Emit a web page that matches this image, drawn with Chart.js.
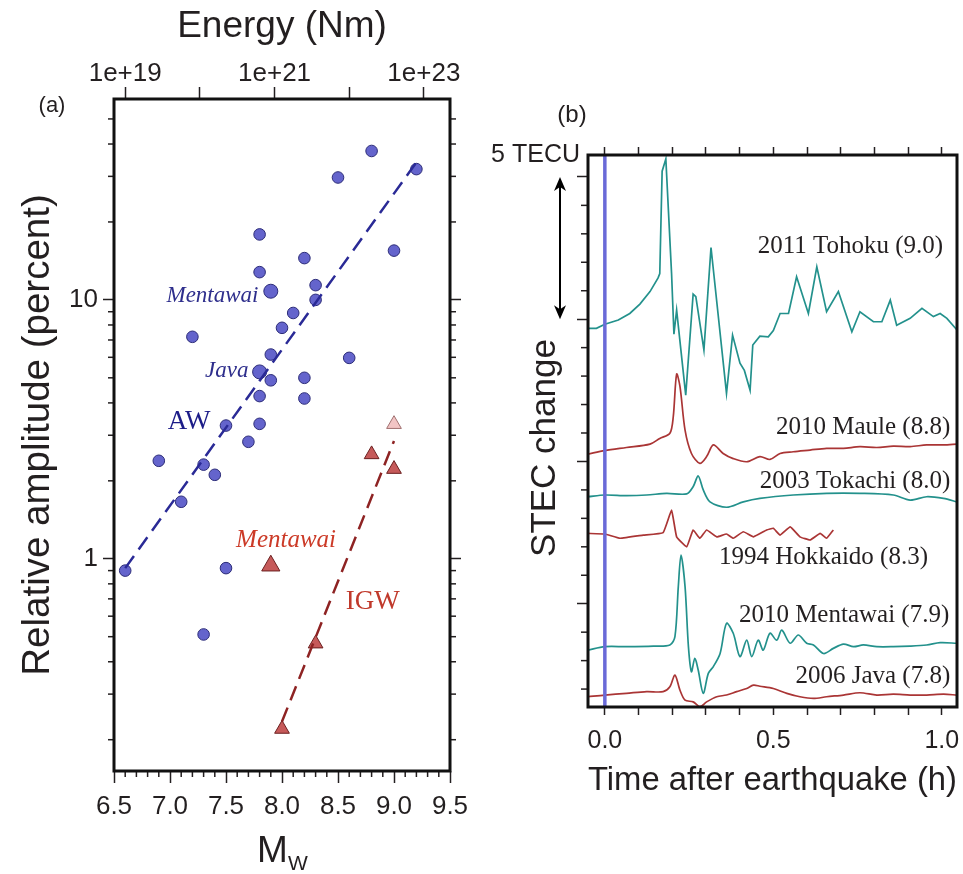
<!DOCTYPE html>
<html>
<head>
<meta charset="utf-8">
<title>AW / IGW amplitude and STEC changes</title>
<script src="https://cdn.jsdelivr.net/npm/chart.js@4.4.1/dist/chart.umd.min.js"></script>
<style>
    html, body { margin: 0; padding: 0; background: #fff; }
    #wrap { position: relative; width: 963px; height: 874px; }
    #chartA { position: absolute; left: 0; top: 0; }
    #chartB { position: absolute; left: 480px; top: 0; }
</style>
</head>
<body>
<div id="wrap">
    <canvas id="chartA" width="480" height="874"></canvas>
    <canvas id="chartB" width="483" height="874"></canvas>
</div>
<script>
// ---------- panel (a): relative amplitude vs Mw ----------
const mwTicks = [6.5, 7.0, 7.5, 8.0, 8.5, 9.0, 9.5];
const mwTickLabels = ["6.5", "7.0", "7.5", "8.0", "8.5", "9.0", "9.5"];
const mwMinorTicks = [6.6, 6.7, 6.8, 6.9, 7.1, 7.2, 7.3, 7.4, 7.6, 7.7, 7.8, 7.9,
                      8.1, 8.2, 8.3, 8.4, 8.6, 8.7, 8.8, 8.9, 9.1, 9.2, 9.3, 9.4];
const energyTicks = [1e19, 1e20, 1e21, 1e22, 1e23];
const energyTickLabels = ["1e+19", "", "1e+21", "", "1e+23"];
const ampTicks = [1, 10];
const ampTickLabels = ["1", "10"];
const ampMinorTicks = [0.2, 0.3, 0.4, 0.5, 0.6, 0.7, 0.8, 0.9, 2, 3, 4, 5, 6, 7, 8, 9, 20, 30, 40, 50];

// acoustic waves (AW), circles
const awMw  = [8.8, 9.2, 8.5, 7.8, 9.0, 8.2, 7.8, 8.3, 8.3, 8.1, 8.0, 7.2, 7.9, 8.6,
               7.9, 8.2, 7.8, 8.2, 7.5, 7.8, 7.7, 6.9, 7.3, 7.4, 7.1, 6.6, 7.5, 7.3];
const awAmp = [37.6, 32, 29.7, 17.9, 15.5, 14.5, 12.8, 11.4, 10.0, 8.9, 7.8, 7.2, 6.15, 5.97,
               4.89, 5.0, 4.25, 4.16, 3.27, 3.32, 2.83, 2.39, 2.31, 2.11, 1.66, 0.90, 0.92, 0.51];
// named events (bigger symbols): Mentawai, Java
const awNamedMw  = [7.9, 7.8];
const awNamedAmp = [10.8, 5.27];

// internal gravity waves (IGW), triangles
const igwMw  = [8.8, 9.0, 8.3, 8.0];
const igwAmp = [2.53, 2.22, 0.47, 0.22];
const igwMentawaiMw  = [7.9];
const igwMentawaiAmp = [0.94];
const igwPaleMw  = [9.0];
const igwPaleAmp = [3.31];

// regression lines
const awFitMw   = [6.6, 9.2];
const awFitAmp  = [0.92, 34];
const igwFitMw  = [8.0, 9.0];
const igwFitAmp = [0.235, 2.85];

// ---------- panel (b): STEC change time series ----------
const timeTicks = [0, 0.1, 0.2, 0.3, 0.4, 0.5, 0.6, 0.7, 0.8, 0.9, 1.0];
const timeTickLabels = ["0.0", "", "", "", "", "0.5", "", "", "", "", "1.0"];
const tecTicks = [5, 10, 15, 20];
const tecMinorTicks = [2, 3, 4, 6, 7, 8, 9, 11, 12, 13, 14, 16, 17, 18, 19];

const tohokuTime = [-0.05, -0.025, 0, 0.04, 0.074, 0.104, 0.134, 0.158, 0.163, 0.170, 0.181, 0.198,
    0.205, 0.213, 0.240, 0.262, 0.270, 0.294, 0.315, 0.361, 0.379, 0.401, 0.414, 0.431, 0.439,
    0.460, 0.485, 0.50, 0.52, 0.545, 0.569, 0.604, 0.629, 0.658, 0.693, 0.733, 0.757, 0.797,
    0.822, 0.847, 0.866, 0.906, 0.941, 0.975, 0.995, 1.015, 1.045];
const tohokuTec = [14.68, 14.68, 14.82, 14.97, 15.2, 15.53, 15.97, 16.45, 16.6, 20.2, 20.63, 16.6,
    14.47, 15.32, 12.33, 15.88, 15.79, 13.92, 17.52, 12.39, 14.44, 13.45, 13.2, 12.5, 14.09,
    14.4, 14.38, 14.6, 15.2, 15.2, 16.49, 15.2, 16.84, 15.26, 15.97, 14.56, 15.26, 14.91,
    14.91, 15.67, 14.79, 15.03, 15.38, 15.09, 15.2, 15.03, 14.62];

const mauleTime = [-0.05, 0, 0.064, 0.134, 0.163, 0.193, 0.203, 0.213, 0.223, 0.238, 0.257, 0.282,
    0.302, 0.322, 0.351, 0.381, 0.421, 0.46, 0.49, 0.52, 0.559, 0.609, 0.658, 0.708, 0.757,
    0.807, 0.856, 0.906, 0.955, 1.005, 1.045];
const mauleTec = [10.26, 10.38, 10.49, 10.61, 10.81, 10.99, 11.57, 13.07, 12.63, 11.1, 10.28, 9.93,
    10.17, 10.58, 10.28, 10.1, 9.99, 10.17, 10.07, 10.28, 10.34, 10.4, 10.46, 10.46, 10.52,
    10.49, 10.54, 10.52, 10.58, 10.58, 10.61];

const tokachiTime = [-0.05, 0, 0.064, 0.124, 0.183, 0.243, 0.262, 0.277, 0.292, 0.312, 0.361, 0.411,
    0.46, 0.559, 0.658, 0.757, 0.856, 0.906, 0.955, 1.005, 1.045];
const tokachiTec = [8.76, 8.82, 8.8, 8.82, 8.88, 8.86, 9.11, 9.49, 9.0, 8.58, 8.39, 8.58,
    8.7, 8.82, 8.88, 8.88, 8.82, 8.64, 8.76, 8.7, 8.58];

const hokkaidoTime = [-0.05, 0, 0.045, 0.114, 0.173, 0.198, 0.213, 0.243, 0.262, 0.282, 0.302, 0.332,
    0.361, 0.381, 0.411, 0.441, 0.48, 0.5, 0.52, 0.55, 0.579, 0.609, 0.639, 0.658, 0.678];
const hokkaidoTec = [7.47, 7.45, 7.3, 7.41, 7.5, 8.29, 7.35, 7.0, 7.59, 7.3, 7.59, 7.35,
    7.45, 7.3, 7.53, 7.35, 7.59, 7.65, 7.41, 7.7, 7.35, 7.24, 7.47, 7.3, 7.59];

const mentawaiTime = [-0.05, 0, 0.064, 0.144, 0.193, 0.208, 0.218, 0.226, 0.238, 0.248, 0.257, 0.267,
    0.277, 0.292, 0.307, 0.322, 0.342, 0.361, 0.381, 0.401, 0.421, 0.436, 0.455, 0.47, 0.49,
    0.51, 0.525, 0.55, 0.574, 0.599, 0.619, 0.649, 0.678, 0.708, 0.738, 0.767, 0.807, 0.856,
    0.906, 0.955, 0.995, 1.045];
const mentawaiTec = [3.37, 3.49, 3.49, 3.51, 3.55, 3.84, 5.6, 6.71, 5.6, 3.49, 2.61, 3.08,
    2.67, 1.85, 2.55, 2.79, 3.25, 4.31, 3.96, 3.14, 3.72, 3.14, 3.72, 3.37, 3.96,
    3.72, 4.07, 3.61, 3.9, 3.61, 3.55, 3.25, 3.43, 3.58, 3.49, 3.55, 3.49, 3.49,
    3.51, 3.55, 3.63, 3.61];

const javaTime = [-0.05, 0, 0.064, 0.124, 0.173, 0.193, 0.208, 0.223, 0.238, 0.262, 0.282, 0.302,
    0.332, 0.361, 0.391, 0.421, 0.441, 0.46, 0.5, 0.54, 0.579, 0.619, 0.658, 0.708, 0.757,
    0.807, 0.856, 0.906, 0.955, 1.005, 1.045];
const javaTec = [1.73, 1.79, 1.85, 1.91, 1.91, 2.08, 2.49, 1.96, 1.61, 1.55, 1.38, 1.55,
    1.73, 1.79, 1.91, 2.02, 2.14, 2.1, 2.02, 1.85, 1.73, 1.67, 1.73, 1.79, 1.87,
    1.79, 1.82, 1.79, 1.79, 1.82, 1.79];

const quakeTime = 0;

// ---------- helpers ----------
const SANS = "'Liberation Sans', Arial, sans-serif";
const SERIF = "'Liberation Serif', 'Times New Roman', serif";
const INK = "#231f20";
const TEAL = "#23918c";
const RED = "#aa3535";

const mwToEnergy = mw => Math.pow(10, 1.5 * mw + 9.1);
const zip = (xs, ys) => xs.map((x, i) => ({ x: x, y: ys[i] }));
const fixedTicks = values => scale => { scale.ticks = values.map(v => ({ value: v })); };

// give every axis a fixed box so the plot area lands where the figure has it
const boxSize = (w, h) => scale => {
    if (w !== null) scale.width = w;
    if (h !== null) scale.height = h;
    scale.paddingLeft = scale.paddingRight = scale.paddingTop = scale.paddingBottom = 0;
};

const tickGrid = len => ({
    drawOnChartArea: false, tickLength: len, tickWidth: 1.5, tickColor: INK
});

// frame round the plot area
const framePlugin = {
    id: "frame",
    afterDraw(chart) {
        const a = chart.chartArea;
        const ctx = chart.ctx;
        ctx.save();
        ctx.strokeStyle = "#111";
        ctx.lineWidth = 3;
        ctx.strokeRect(a.left, a.top, a.right - a.left, a.bottom - a.top);
        ctx.restore();
    }
};

// short ticks between the labelled ones
function minorTicks(list) {
    return {
        id: "minorTicks",
        afterDraw(chart) {
            const a = chart.chartArea;
            const ctx = chart.ctx;
            ctx.save();
            ctx.strokeStyle = INK;
            ctx.lineWidth = 1.5;
            list.forEach(m => {
                const s = chart.scales[m.scale];
                m.values.forEach(v => {
                    const p = s.getPixelForValue(v);
                    ctx.beginPath();
                    if (m.side === "left") { ctx.moveTo(a.left, p); ctx.lineTo(a.left - m.length, p); }
                    if (m.side === "right") { ctx.moveTo(a.right, p); ctx.lineTo(a.right + m.length, p); }
                    if (m.side === "bottom") { ctx.moveTo(p, a.bottom); ctx.lineTo(p, a.bottom + m.length); }
                    ctx.stroke();
                });
            });
            ctx.restore();
        }
    };
}

// free text: at data coordinates (at) or at canvas pixels (px)
function notes(items) {
    return {
        id: "notes",
        afterDraw(chart) {
            const ctx = chart.ctx;
            items.forEach(n => {
                let x, y;
                if (n.at) {
                    x = chart.scales.x.getPixelForValue(n.at[0]);
                    y = chart.scales.y.getPixelForValue(n.at[1]);
                } else {
                    x = n.px[0];
                    y = n.px[1];
                }
                ctx.save();
                ctx.translate(x, y);
                if (n.rotate) ctx.rotate(n.rotate);
                ctx.font = n.font;
                ctx.fillStyle = n.color || INK;
                ctx.textAlign = n.align || "left";
                ctx.textBaseline = n.baseline || "alphabetic";
                ctx.fillText(n.text, 0, 0);
                ctx.restore();
            });
        }
    };
}

// double-headed scale arrow (5 TECU)
function scaleArrow(from, to, dx) {
    return {
        id: "scaleArrow",
        afterDraw(chart) {
            const ctx = chart.ctx;
            const y = chart.scales.y;
            const x = chart.chartArea.left + dx;
            const y1 = y.getPixelForValue(from);
            const y2 = y.getPixelForValue(to);
            ctx.save();
            ctx.strokeStyle = "#000";
            ctx.fillStyle = "#000";
            ctx.lineWidth = 2;
            ctx.beginPath();
            ctx.moveTo(x, y1 + 8);
            ctx.lineTo(x, y2 - 8);
            ctx.stroke();
            [[y1, 1], [y2, -1]].forEach(([tip, dir]) => {
                ctx.beginPath();
                ctx.moveTo(x, tip);
                ctx.lineTo(x - 6, tip + dir * 14);
                ctx.lineTo(x, tip + dir * 10);
                ctx.lineTo(x + 6, tip + dir * 14);
                ctx.closePath();
                ctx.fill();
            });
            ctx.restore();
        }
    };
}

// ---------- chart (a) ----------
const ampMin = 0.1514, ampMax = 59.7;

new Chart(document.getElementById("chartA"), {
    type: "scatter",
    data: {
        datasets: [
            {
                label: "AW fit",
                data: zip(awFitMw, awFitAmp),
                showLine: true, pointRadius: 0,
                borderColor: "#2a2a96", borderWidth: 2.5, borderDash: [15, 8]
            },
            {
                label: "IGW fit",
                data: zip(igwFitMw, igwFitAmp),
                showLine: true, pointRadius: 0,
                borderColor: "#8e2323", borderWidth: 2.5, borderDash: [15, 8]
            },
            {
                label: "AW named",
                data: zip(awNamedMw, awNamedAmp),
                pointStyle: "circle", pointRadius: 7,
                backgroundColor: "#6464cc", borderColor: "#2c2c78", borderWidth: 1
            },
            {
                label: "AW",
                data: zip(awMw, awAmp),
                pointStyle: "circle", pointRadius: 5.8,
                backgroundColor: "#6464cc", borderColor: "#2c2c78", borderWidth: 1
            },
            {
                label: "IGW Mentawai",
                data: zip(igwMentawaiMw, igwMentawaiAmp),
                pointStyle: "triangle", pointRadius: 10.5,
                backgroundColor: "#c65a5a", borderColor: "#6b1f1f", borderWidth: 1
            },
            {
                label: "IGW",
                data: zip(igwMw, igwAmp),
                pointStyle: "triangle", pointRadius: 8.5,
                backgroundColor: "#c65a5a", borderColor: "#6b1f1f", borderWidth: 1
            },
            {
                label: "IGW pale",
                data: zip(igwPaleMw, igwPaleAmp),
                pointStyle: "triangle", pointRadius: 8.5,
                backgroundColor: "#f2c4c4", borderColor: "#a07070", borderWidth: 1
            }
        ]
    },
    options: {
        responsive: false,
        animation: false,
        layout: { padding: 0 },
        plugins: { legend: { display: false }, tooltip: { enabled: false } },
        scales: {
            x: {
                type: "linear", position: "bottom", min: 6.5, max: 9.5,
                afterBuildTicks: fixedTicks(mwTicks),
                afterFit: boxSize(null, 103),
                ticks: {
                    autoSkip: false, maxRotation: 0, padding: 8, color: INK,
                    font: { family: SANS, size: 26 },
                    callback: (v, i) => mwTickLabels[i]
                },
                grid: tickGrid(12),
                border: { display: false }
            },
            xTop: {
                type: "logarithmic", position: "top",
                min: mwToEnergy(6.5), max: mwToEnergy(9.5),
                afterBuildTicks: fixedTicks(energyTicks),
                afterFit: boxSize(null, 99),
                ticks: {
                    autoSkip: false, maxRotation: 0, padding: 0, color: INK,
                    font: { family: SANS, size: 26, lineHeight: 1 },
                    callback: (v, i) => energyTickLabels[i]
                },
                grid: tickGrid(12),
                border: { display: false },
                title: {
                    display: true, text: "Energy (Nm)", color: INK,
                    font: { family: SANS, size: 37 }, padding: { top: 5, bottom: 0 }
                }
            },
            y: {
                type: "logarithmic", position: "left", min: ampMin, max: ampMax,
                afterBuildTicks: fixedTicks(ampTicks),
                afterFit: boxSize(114, null),
                ticks: {
                    autoSkip: false, padding: 5, color: INK,
                    font: { family: SANS, size: 26 },
                    callback: (v, i) => ampTickLabels[i]
                },
                grid: tickGrid(11),
                border: { display: false },
                title: {
                    display: true, text: "Relative amplitude (percent)", color: INK,
                    font: { family: SANS, size: 38.5 }, padding: { top: 15, bottom: 0 }
                }
            },
            yR: {
                type: "logarithmic", position: "right", min: ampMin, max: ampMax,
                afterBuildTicks: fixedTicks(ampTicks),
                afterFit: boxSize(30, null),
                ticks: { callback: () => "" },
                grid: tickGrid(11),
                border: { display: false }
            }
        }
    },
    plugins: [
        minorTicks([
            { scale: "y", side: "left", length: 6, values: ampMinorTicks },
            { scale: "y", side: "right", length: 6, values: ampMinorTicks },
            { scale: "x", side: "bottom", length: 6, values: mwMinorTicks }
        ]),
        framePlugin,
        notes([
            { text: "(a)", px: [52, 106], font: "22px " + SANS, align: "center", baseline: "middle" },
            { text: "M", px: [257, 862], font: "37px " + SANS },
            { text: "W", px: [288, 870], font: "21px " + SANS },
            { text: "Mentawai", at: [7.79, 9.8], font: "italic 23px " + SERIF, color: "#2e2e8c", align: "right" },
            { text: "Java", at: [7.70, 5.03], font: "italic 23px " + SERIF, color: "#2e2e8c", align: "right" },
            { text: "AW", at: [6.98, 3.17], font: "27px " + SERIF, color: "#1c1c88" },
            { text: "Mentawai", at: [7.59, 1.11], font: "italic 25px " + SERIF, color: "#cc3b28" },
            { text: "IGW", at: [8.57, 0.64], font: "27px " + SERIF, color: "#c0392b" }
        ])
    ]
});

// ---------- chart (b) ----------
const tecMin = 1.37, tecMax = 20.77;
const traceStyle = (color, tension) => ({
    showLine: true, pointRadius: 0, borderColor: color, borderWidth: 1.7, tension: tension
});

new Chart(document.getElementById("chartB"), {
    type: "scatter",
    data: {
        datasets: [
            Object.assign({ label: "Earthquake", data: zip([quakeTime, quakeTime], [tecMin, tecMax]) },
                traceStyle("#6a6ad8", 0), { borderWidth: 3.5 }),
            Object.assign({ label: "2011 Tohoku (9.0)", data: zip(tohokuTime, tohokuTec) }, traceStyle(TEAL, 0)),
            Object.assign({ label: "2010 Maule (8.8)", data: zip(mauleTime, mauleTec) }, traceStyle(RED, 0.3)),
            Object.assign({ label: "2003 Tokachi (8.0)", data: zip(tokachiTime, tokachiTec) }, traceStyle(TEAL, 0.3)),
            Object.assign({ label: "1994 Hokkaido (8.3)", data: zip(hokkaidoTime, hokkaidoTec) }, traceStyle(RED, 0.1)),
            Object.assign({ label: "2010 Mentawai (7.9)", data: zip(mentawaiTime, mentawaiTec) }, traceStyle(TEAL, 0.3)),
            Object.assign({ label: "2006 Java (7.8)", data: zip(javaTime, javaTec) }, traceStyle(RED, 0.3))
        ]
    },
    options: {
        responsive: false,
        animation: false,
        layout: { padding: { right: 6 } },
        plugins: { legend: { display: false }, tooltip: { enabled: false } },
        scales: {
            x: {
                type: "linear", position: "bottom", min: -0.05, max: 1.045,
                afterBuildTicks: fixedTicks(timeTicks),
                afterFit: boxSize(null, 167),
                ticks: {
                    autoSkip: false, maxRotation: 0, padding: 11, color: INK,
                    font: { family: SANS, size: 25 },
                    callback: (v, i) => timeTickLabels[i]
                },
                grid: tickGrid(8),
                border: { display: false },
                title: {
                    display: true, text: "Time after earthquake (h)", color: INK,
                    font: { family: SANS, size: 33 }, padding: { top: 0, bottom: 73 }
                }
            },
            xTop: {
                type: "linear", position: "top", min: -0.05, max: 1.045,
                afterBuildTicks: fixedTicks(timeTicks),
                afterFit: boxSize(null, 155),
                ticks: { autoSkip: false, callback: () => "" },
                grid: tickGrid(8),
                border: { display: false }
            },
            y: {
                type: "linear", position: "left", min: tecMin, max: tecMax,
                afterBuildTicks: fixedTicks(tecTicks),
                afterFit: boxSize(108, null),
                ticks: { autoSkip: false, callback: () => "" },
                grid: tickGrid(11),
                border: { display: false }
            }
        }
    },
    plugins: [
        minorTicks([{ scale: "y", side: "left", length: 7, values: tecMinorTicks }]),
        framePlugin,
        notes([
            { text: "(b)", px: [92, 115], font: "24px " + SANS, align: "center", baseline: "middle" },
            { text: "5 TECU", px: [100, 155], font: "25px " + SANS, align: "right", baseline: "middle" },
            { text: "STEC change", px: [65, 448], font: "35px " + SANS, align: "center",
              baseline: "middle", rotate: -Math.PI / 2 },
            { text: "2011 Tohoku (9.0)", at: [1.004, 17.32], font: "25px " + SERIF, align: "right" },
            { text: "2010 Maule (8.8)", at: [1.025, 10.96], font: "25px " + SERIF, align: "right" },
            { text: "2003 Tokachi (8.0)", at: [1.025, 9.07], font: "25px " + SERIF, align: "right" },
            { text: "1994 Hokkaido (8.3)", at: [0.959, 6.39], font: "25px " + SERIF, align: "right" },
            { text: "2010 Mentawai (7.9)", at: [1.022, 4.36], font: "25px " + SERIF, align: "right" },
            { text: "2006 Java (7.8)", at: [1.025, 2.21], font: "25px " + SERIF, align: "right" }
        ]),
        scaleArrow(20, 15, -28)
    ]
});
</script>
</body>
</html>
